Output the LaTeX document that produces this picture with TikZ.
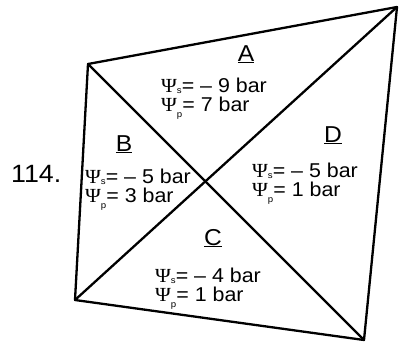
\documentclass[tikz,border=0pt]{standalone}
\usepackage{fontspec}
\setmainfont[FakeStretch=1.07]{Liberation Sans}
\newfontfamily\psifont[FakeStretch=1.07]{Liberation Serif}
\usetikzlibrary{positioning,calc}
\tikzset{
    every picture/.style={line cap=round,line join=round},
    edgeline/.style={draw=black,line width=2.3pt},
    zonelabel/.style={font=\fontsize{23}{23}\selectfont,inner sep=0pt,anchor=base},
    zonetext/.style={font=\fontsize{20}{20}\selectfont,inner sep=0pt,anchor=base west},
    itemno/.style={font=\fontsize{25}{25}\selectfont,inner sep=0pt,anchor=base west}
}
\newcommand{\potsub}[2]{{\psifont Ψ}\raisebox{#2}{\fontsize{9}{9}\selectfont #1}}

\begin{document}
\begin{tikzpicture}[x=1pt,y=-1pt]
  \useasboundingbox (0,0) rectangle (399,343);
  % corners of the quadrilateral
  \coordinate (tl) at (88,64);
  \coordinate (tr) at (397,7);
  \coordinate (br) at (364,340);
  \coordinate (bl) at (75,300);
  \draw[edgeline] (tl) -- (tr) -- (br) -- (bl) -- cycle;
  \draw[edgeline] (tl) -- (br);
  \draw[edgeline] (bl) -- (tr);
  \node[itemno] (num) at (11,182) {114.};
  % zones with their potentials
  \foreach \z/\lx/\ly/\tx/\ty/\vs/\vp in {A/246/61/161/92/{– 9}/7,
      B/124/151/85/183/{– 5}/3,C/213/245/155/282/{– 4}/1,D/333/142/252/177/{– 5}/1} {
    \node[zonelabel] (lab\z) at (\lx,\ly) {\underline{\z}};
    \node[zonetext] (s\z) at (\tx,\ty) {\potsub{s}{-0.1ex}= \vs{} bar};
    \node[zonetext] (p\z) at (\tx,\ty+19) {\potsub{p}{-0.6ex}= \vp{} bar};
  }
\end{tikzpicture}
\end{document}
